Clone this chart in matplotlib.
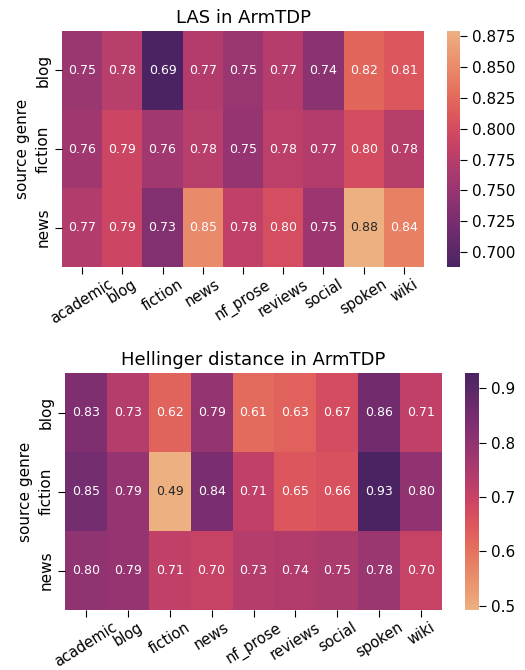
import numpy as np
import seaborn as sns
from matplotlib import pyplot as plt

targets = ['academic', 'blog', 'fiction', 'news', 'nf_prose', 'reviews', 'social', 'spoken', 'wiki']
sources = ['blog', 'fiction', 'news']

las = [
    [0.752, 0.776, 0.688, 0.772, 0.751, 0.774, 0.740, 0.822, 0.810],
    [0.757, 0.792, 0.758, 0.776, 0.748, 0.779, 0.772, 0.800, 0.775],
    [0.771, 0.793, 0.733, 0.850, 0.782, 0.801, 0.754, 0.879, 0.842],
]
las_ticks = [0.700, 0.725, 0.750, 0.775, 0.800, 0.825, 0.850, 0.875]

hellinger = [
    [0.831, 0.733, 0.624, 0.793, 0.612, 0.628, 0.672, 0.856, 0.712],
    [0.852, 0.791, 0.492, 0.841, 0.712, 0.651, 0.662, 0.928, 0.800],
    [0.802, 0.791, 0.712, 0.703, 0.733, 0.742, 0.752, 0.782, 0.702],
]
hellinger_ticks = [0.5, 0.6, 0.7, 0.8, 0.9]

W, H = 525, 670
fig = plt.figure(figsize=(W / 100, H / 100), dpi=100)


def box(x0, y0, x1, y1):
    # pixel box -> figure fraction
    return [x0 / W, 1 - y1 / H, (x1 - x0) / W, (y1 - y0) / H]


def draw(ax, cax, data, cmap, title, ticks, tick_fmt):
    sns.heatmap(np.array(data), ax=ax, cbar_ax=cax, cmap=cmap, annot=True, fmt='.2f',
                annot_kws={'fontsize': 9}, xticklabels=targets, yticklabels=sources,
                cbar_kws={'ticks': ticks, 'format': tick_fmt})
    ax.set_title(title, fontsize=13)
    ax.set_ylabel('source genre', fontsize=11)
    ax.set_xticklabels(targets, rotation=32, ha='center', fontsize=10.5)
    ax.set_yticklabels(sources, rotation=90, va='center', fontsize=11)
    ax.tick_params(length=5)
    ax.tick_params(axis='x', pad=2)
    cax.tick_params(labelsize=11, length=5)


ax1 = fig.add_axes(box(62, 31, 424, 267))
cax1 = fig.add_axes(box(447, 31, 460, 267))
draw(ax1, cax1, las, 'flare_r', 'LAS in ArmTDP', las_ticks, '%.3f')

ax2 = fig.add_axes(box(65, 373, 442, 610))
cax2 = fig.add_axes(box(465, 373, 479, 610))
draw(ax2, cax2, hellinger, 'flare', 'Hellinger distance in ArmTDP', hellinger_ticks, '%.1f')

fig.savefig('out.png', dpi=100)
